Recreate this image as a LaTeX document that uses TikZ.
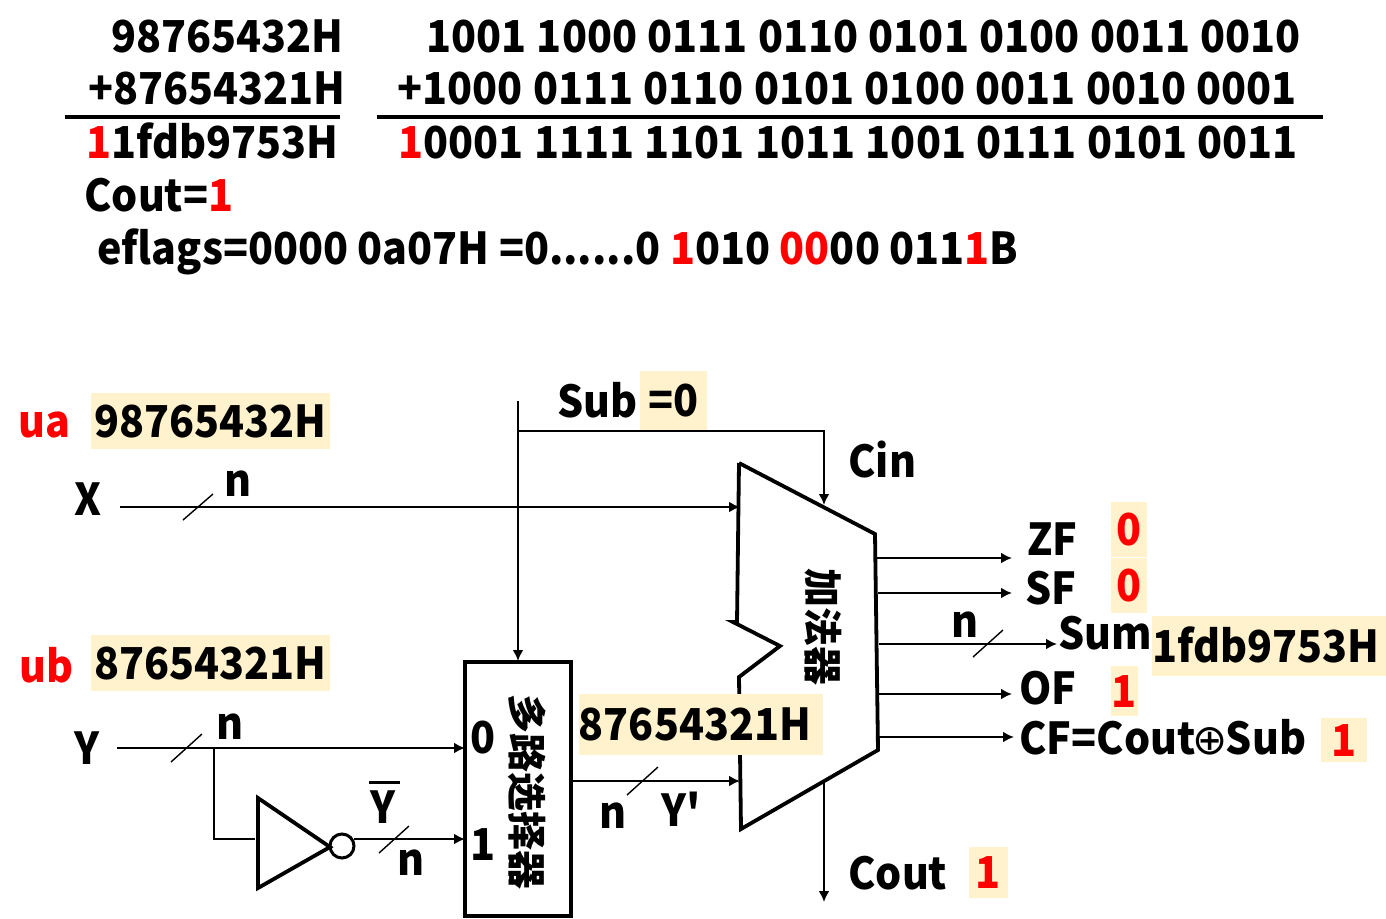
\documentclass[tikz,border=0pt]{standalone}
\usepackage{fontspec}
\setmainfont{Noto Sans CJK SC}[FakeStretch=0.935,Ligatures=TeXOff]
\newfontfamily\hanzi{Noto Sans CJK SC}
\newfontfamily\symfont{DejaVu Sans}
\usetikzlibrary{arrows.meta}
\definecolor{hlfill}{HTML}{FFF2CC}
\newcommand{\redbit}[1]{\textcolor{red}{#1}}
\tikzset{
	txt/.style={anchor=base west,inner sep=0pt,font=\bfseries\fontsize{22}{26}\selectfont},
	bin/.style={txt,execute at begin node={\spaceskip=5.2pt}},
	hl/.style={fill=hlfill,inner sep=0pt,text height=16pt,text depth=0pt,font=\bfseries\fontsize{22}{26}\selectfont},
	cjk/.style={rotate=-90,inner sep=0pt,font=\hanzi\bfseries\fontsize{19.5}{22}\selectfont},
	wire/.style={line width=1.4pt,-{Latex[length=5.5pt,width=5.5pt]}},
	plainwire/.style={line width=1.4pt},
	slash/.style={line width=0.7pt},
	part/.style={line width=1.9pt,line join=miter}
}
\begin{document}
\begin{tikzpicture}[x=0.5pt,y=-0.5pt]
	\useasboundingbox (0,0) rectangle (1386,918);

	% sums
	\path (111,52) node[txt] (a1) {98765432H}
	(88,104) node[txt] (a2) {+87654321H}
	(86,158) node[txt] (a3) {\redbit{1}1fdb9753H}
	(84,211) node[txt] (cout0) {Cout=\redbit{1}}
	(97,264) node[txt] (eflags) {eflags=0000 0a07H =0......0 \redbit{1}010 \redbit{00}00 011\redbit{1}B}
	(426,52) node[bin] (b1) {1001 1000 0111 0110 0101 0100 0011 0010}
	(397,104) node[bin] (b2) {+1000 0111 0110 0101 0100 0011 0010 0001}
	(398,158) node[bin] (b3) {\redbit{1}0001 1111 1101 1011 1001 0111 0101 0011};
	\path (65,117) coordinate (r1a) (340,117) coordinate (r1b)
	(377,117) coordinate (r2a) (1323,117) coordinate (r2b);
	\draw[line width=1.9pt] (r1a) -- (r1b)
	(r2a) -- (r2b);

	% adder
	\path (739,463) coordinate (p0)
	(875,534) coordinate (p1)
	(878,750) coordinate (p2)
	(741,829) coordinate (p3)
	(739,677) coordinate (p4)
	(780,646) coordinate (p5)
	(733,622) coordinate (p6)
	(737,622) coordinate (p7);
	\draw[part] (p0) -- (p1) -- (p2) -- (p3) -- (p4) -- (p5) -- (p6) -- (p7) -- (p0);
	\node[cjk] (adder) at (823,627) {加法器};

	% mux and inverter
	\node[draw,line width=1.9pt,minimum width=53pt,minimum height=127pt,inner sep=0pt] (mux) at (518,789) {};
	\node[cjk] (muxtext) at (527,792) {多路选择器};
	\path (258,798) coordinate (t0)
	(258,888) coordinate (t1)
	(330,847) coordinate (t2);
	\draw[part] (t0) -- (t2) -- (t1) -- cycle;
	\node[draw,circle,line width=1.5pt,minimum size=12pt,inner sep=0pt] (inv) at (342,846) {};

	% free ends
	\path (120,507) coordinate (xin) (740,507) coordinate (xout)
	(518,401) coordinate (subin) (518,431) coordinate (subj)
	(824,431) coordinate (cinc) (824,505) coordinate (cinout)
	(518,661) coordinate (muxtop)
	(117,748) coordinate (yin) (465,748) coordinate (m0) (214,748) coordinate (yj)
	(214,839) coordinate (yc) (255,839) coordinate (tin)
	(354,839) coordinate (ybar) (465,839) coordinate (m1)
	(571,781) coordinate (mout) (740,781) coordinate (aY)
	(877,558) coordinate (o1) (1012,558) coordinate (e1)
	(878,593) coordinate (o2) (1012,593) coordinate (e2)
	(879,644) coordinate (o3) (1057,644) coordinate (e3)
	(879,694) coordinate (o4) (1012,694) coordinate (e4)
	(879,737) coordinate (o5) (1014,737) coordinate (e5)
	(824,783) coordinate (o6) (824,902) coordinate (e6);
	\draw[plainwire] (subin) -- (subj)
	(yj) -- (yc) -- (tin);
	\draw[wire] (xin) -- (xout);
	\draw[wire] (subj) -- (muxtop);
	\draw[wire] (subj) -- (cinc) -- (cinout);
	\draw[wire] (yin) -- (m0);
	\draw[wire] (ybar) -- (m1);
	\draw[wire] (mout) -- (aY);
	\draw[wire] (o1) -- (e1);
	\draw[wire] (o2) -- (e2);
	\draw[wire] (o3) -- (e3);
	\draw[wire] (o4) -- (e4);
	\draw[wire] (o5) -- (e5);
	\draw[wire] (o6) -- (e6);

	% width marks
	\path (183,520) coordinate (s1a) (213,494) coordinate (s1b)
	(171,762) coordinate (s2a) (202,734) coordinate (s2b)
	(379,853) coordinate (s3a) (409,826) coordinate (s3b)
	(627,795) coordinate (s4a) (658,767) coordinate (s4b)
	(973,657) coordinate (s5a) (1003,630) coordinate (s5b)
	(369,782) coordinate (bara) (400,782) coordinate (barb);
	\draw[slash] (s1a) -- (s1b)
	(s2a) -- (s2b)
	(s3a) -- (s3b)
	(s4a) -- (s4b)
	(s5a) -- (s5b);
	\draw[line width=1.5pt] (bara) -- (barb);

	% values
	\node[hl,minimum width=119.5pt,minimum height=28pt] (uaval) at (210.5,421) {98765432H};
	\node[hl,minimum width=119.5pt,minimum height=28pt] (ubval) at (210.5,663) {87654321H};
	\node[hl,minimum width=33.5pt,minimum height=29.5pt] (subval) at (673.5,400.5) {=0};
	\node[hl,minimum width=122pt,minimum height=30.5pt] (muxval) at (701,724.5) {87654321H\kern 6pt};
	\node[hl,minimum width=18pt,minimum height=27.5pt,text=red] (zfval) at (1129,529.5) {0};
	\node[hl,minimum width=18pt,minimum height=27.5pt,text=red] (sfval) at (1129,585.5) {0};
	\node[hl,minimum width=117pt,minimum height=30pt] (sumval) at (1269,646) {1fdb9753H\kern 3pt};
	\node[hl,minimum width=13.5pt,minimum height=25pt,text=red] (ofval) at (1124.5,691) {1};
	\node[hl,minimum width=23pt,minimum height=22pt,text=red] (cfval) at (1344,740) {1};
	\node[hl,minimum width=19.5pt,minimum height=25.5pt,text=red] (coutval) at (988.5,872.5) {1};

	% labels
	\path (18,437) node[txt,text=red] (ua) {ua}
	(19,682) node[txt,text=red] (ub) {ub}
	(74,515) node[txt] (x) {X}
	(74,764) node[txt] (y) {Y}
	(224,496) node[txt] (n1) {n}
	(216,739) node[txt] (n2) {n}
	(397,875) node[txt] (n3) {n}
	(599,828) node[txt] (n4) {n}
	(951,637) node[txt] (n5) {n}
	(370,823) node[txt] (yb) {Y}
	(661,826) node[txt] (yp) {Y'}
	(557,417) node[txt] (sub) {Sub}
	(848,477) node[txt] (cin) {Cin}
	(470,753) node[txt] (l0) {0}
	(470,860) node[txt] (l1) {1}
	(1027,555) node[txt] (zf) {ZF}
	(1025,604) node[txt] (sf) {SF}
	(1058,649) node[txt] (sum) {Sum}
	(1019,704) node[txt] (of) {OF}
	(1019,754) node[txt] (cf) {CF=Cout{\symfont\mdseries\fontsize{21}{22}\selectfont\kern-1.5pt ⊕\kern-1pt}Sub}
	(848,889) node[txt] (cout) {Cout};
\end{tikzpicture}
\end{document}
